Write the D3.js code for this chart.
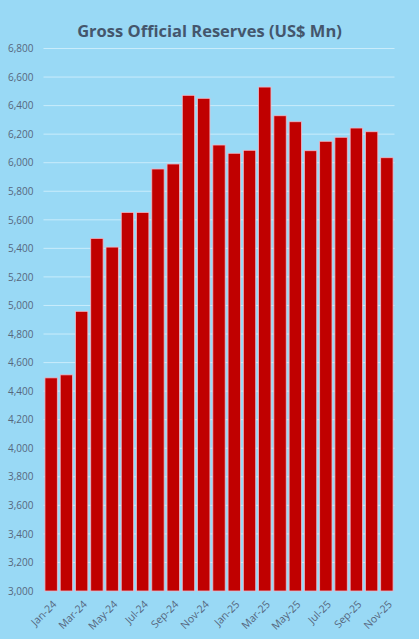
<!DOCTYPE html>
<html>
<head>
<meta charset="utf-8">
<script src="https://cdn.jsdelivr.net/npm/d3@7"></script>
<style>
html,body{margin:0;padding:0;background:#99d9f5;}
svg{display:block;}
</style>
</head>
<body>
<script>
const months = ["Jan-24","Feb-24","Mar-24","Apr-24","May-24","Jun-24","Jul-24","Aug-24","Sep-24","Oct-24","Nov-24","Dec-24",
"Jan-25","Feb-25","Mar-25","Apr-25","May-25","Jun-25","Jul-25","Aug-25","Sep-25","Oct-25","Nov-25"];
const reserves = [4493,4514,4959,5470,5409,5652,5652,5956,5991,6472,6451,6124,
6066,6087,6530,6329,6287,6084,6150,6178,6243,6217,6035];
const yTicks = [3000,3200,3400,3600,3800,4000,4200,4400,4600,4800,5000,5200,5400,5600,5800,6000,6200,6400,6600,6800];
const title = "Gross Official Reserves (US$ Mn)";

const W = 419, H = 639;
const svg = d3.select("body").append("svg").attr("width", W).attr("height", H);
svg.append("rect").attr("width", W).attr("height", H).attr("fill", "#99d9f5");

const x = d3.scaleBand().domain(months).range([43.5, 394.5]).paddingInner(0.19).paddingOuter(0.095);
const y = d3.scaleLinear().domain([3000, 6800]).range([591, 48.5]);

// gridlines
svg.append("g").selectAll("line").data(yTicks.slice(1)).join("line")
  .attr("x1", 43.5).attr("x2", 394.5)
  .attr("y1", d => y(d)).attr("y2", d => y(d))
  .attr("stroke", "#c9ecfb").attr("stroke-width", 1);

// y axis
const yAxis = d3.axisLeft(y).tickValues(yTicks).tickFormat(d3.format(",")).tickSize(0).tickPadding(10);
const gy = svg.append("g").attr("transform", "translate(43.5,0)").call(yAxis);
gy.select(".domain").remove();
gy.selectAll("text").attr("fill", "#56677e").style("font-family", "'Open Sans', sans-serif").style("font-size", "10px");

// bars
svg.append("g").selectAll("rect").data(reserves).join("rect")
  .attr("x", (d, i) => x(months[i]))
  .attr("y", d => y(d))
  .attr("width", x.bandwidth())
  .attr("height", d => y(3000) - y(d))
  .attr("fill", "#c00000")
  .attr("stroke", "#f0b7c6").attr("stroke-width", 0.8);

// x axis
const xAxis = d3.axisBottom(x).tickValues(months.filter((m, i) => i % 2 === 0)).tickSize(0).tickPadding(0);
const gx = svg.append("g").attr("transform", "translate(0,591)").call(xAxis);
gx.select(".domain").remove();
gx.selectAll("text")
  .attr("fill", "#56677e")
  .style("font-family", "'Open Sans', sans-serif").style("font-size", "10.5px")
  .attr("text-anchor", "end")
  .attr("dy", null).attr("y", 0)
  .attr("transform", "translate(6,14) rotate(-45)");

// title
svg.append("text").attr("x", 209.5).attr("y", 37).attr("text-anchor", "middle")
  .attr("fill", "#44566c").style("font-family", "'Open Sans', sans-serif")
  .style("font-weight", "700").style("font-size", "16.5px").text(title);
</script>
</body>
</html>
